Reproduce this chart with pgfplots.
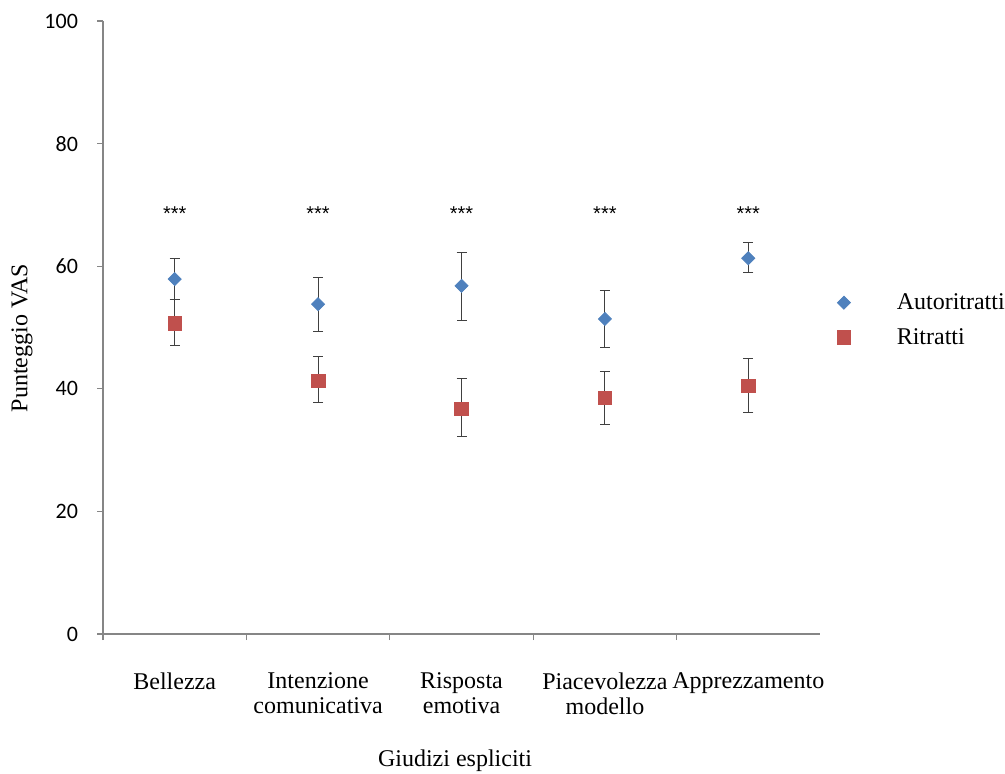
\documentclass[border=0pt]{standalone}
\usepackage{pgfplots}
\pgfplotsset{compat=1.18}
\usepackage{fontspec}
\setmainfont{Liberation Serif}
\newfontfamily\carlito{Carlito}
\newfontfamily\lsans{Liberation Sans}
\definecolor{autoblue}{HTML}{4F81BD}
\definecolor{ritred}{HTML}{C0504D}
\definecolor{axgray}{HTML}{868686}
\begin{document}
\begin{tikzpicture}
\useasboundingbox (0,0) rectangle (502.5pt,386.5pt);
\begin{axis}[
  scale only axis,
  at={(51.5pt,69.5pt)}, anchor=south west,
  width=358.5pt, height=306.5pt,
  xmin=-0.5, xmax=4.5, ymin=0, ymax=100,
  axis x line*=bottom, axis y line*=left,
  axis line style={axgray, line width=0.6pt},
  x axis line style={-}, y axis line style={-},
  xtick={0,1,2,3,4},
  xticklabels={Bellezza,{Intenzione\\comunicativa},{Risposta\\emotiva},{Piacevolezza\\modello},Apprezzamento},
  minor xtick={-0.5,0.5,1.5,2.5,3.5},
  major x tick style={draw=none},
  minor tick length=3pt,
  ytick={0,20,40,60,80,100},
  major tick length=3pt,
  tick align=outside,
  tick style={axgray, line width=0.6pt},
  xticklabel style={font=\fontsize{12}{12.5}\selectfont, align=center, anchor=north, yshift=-13pt},
  yticklabel style={font=\carlito\fontsize{11}{13}\selectfont, xshift=-6pt},
  /pgf/number format/assume math mode=true,
  ylabel={Punteggio VAS},
  xlabel={Giudizi espliciti},
  ylabel style={font=\fontsize{12}{14}\selectfont, at={(axis description cs:-0.113,0.483)}, rotate=0, anchor=center},
  xlabel style={font=\fontsize{12}{14}\selectfont, at={(axis description cs:0.491,-0.206)}, anchor=center},
  legend style={draw=none, fill=none, at={(1.015,0.512)}, anchor=west, font=\fontsize{12}{14}\selectfont, row sep=4pt, column sep=21pt},
  legend cell align=left,
  clip=false,
]
\addplot+[only marks, mark=square*, mark size=2.3pt, mark options={rotate=45, fill=autoblue, draw=autoblue},
  error bars/.cd, y dir=both, y explicit,
  error bar style={black!75, line width=0.5pt},
  error mark options={rotate=90, mark size=2.5pt, black!75, line width=0.5pt}]
coordinates {
 (0,57.9) += (0,3.3) -= (0,3.3)
 (1,53.8) += (0,4.3) -= (0,4.4)
 (2,56.8) += (0,5.5) -= (0,5.6)
 (3,51.4) += (0,4.7) -= (0,4.6)
 (4,61.3) += (0,2.6) -= (0,2.4)
};
\addlegendentry{Autoritratti}
\addplot+[only marks, mark=square*, mark size=3.4pt, mark options={fill=ritred, draw=ritred},
  error bars/.cd, y dir=both, y explicit,
  error bar style={black!75, line width=0.5pt},
  error mark options={rotate=90, mark size=2.5pt, black!75, line width=0.5pt}]
coordinates {
 (0,50.7) += (0,3.9) -= (0,3.7)
 (1,41.3) += (0,3.9) -= (0,3.6)
 (2,36.7) += (0,4.9) -= (0,4.4)
 (3,38.5) += (0,4.4) -= (0,4.4)
 (4,40.5) += (0,4.5) -= (0,4.4)
};
\addlegendentry{Ritratti}
\pgfplotsinvokeforeach{0,1,2,3,4}{
  \node[font=\lsans\fontsize{10}{12}\selectfont] at (axis cs:#1,68.6) {***};
}
\end{axis}
\end{tikzpicture}
\end{document}
